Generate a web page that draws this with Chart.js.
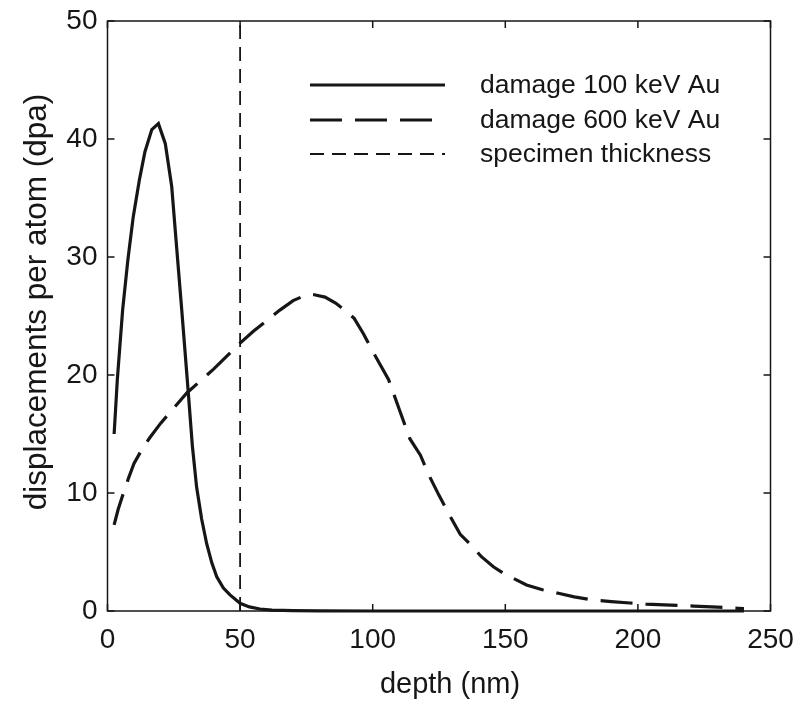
<!DOCTYPE html>
<html>
<head>
<meta charset="utf-8">
<script src="https://cdn.jsdelivr.net/npm/chart.js@4/dist/chart.umd.min.js"></script>
<style>
  html, body { margin: 0; padding: 0; background: #ffffff; }
  #wrap { width: 794px; height: 704px; }
</style>
</head>
<body>
<div id="wrap"><canvas id="c" width="794" height="704"></canvas></div>
<script>
// Damage profile, 100 keV Au
const depth100 = [2.5, 3.7, 5.7, 7.7, 9.7, 12, 14.1, 16.7, 19.2, 21.8, 24.2, 26, 28, 30.5, 32, 33.6, 35.5, 37.4, 39.3, 41.2, 43.7, 46.2, 50, 53.5, 57.5, 62, 70, 80, 100, 150, 200, 240];
const dpa100   = [15.0, 19.6, 25.5, 29.8, 33.4, 36.5, 38.9, 40.8, 41.3, 39.6, 36.0, 31.0, 25.5, 18.4, 14.0, 10.5, 7.8, 5.7, 4.1, 2.9, 1.95, 1.36, 0.65, 0.35, 0.17, 0.08, 0.03, 0.01, 0, 0, 0, 0];

// Damage profile, 600 keV Au
const depth600 = [2.5, 4, 6, 8, 10, 13, 16, 20, 25, 30, 35, 40, 45, 50, 55, 60, 65, 70, 75, 78, 82, 86, 90, 93, 96.5, 100, 103, 106, 110, 114, 118, 121, 125, 129, 133, 137, 141, 145.5, 150, 153, 158, 164, 170, 176, 183, 190, 197, 203, 210, 221, 230, 238, 240];
const dpa600   = [7.3, 8.6, 10.0, 11.3, 12.5, 13.7, 14.7, 15.9, 17.2, 18.5, 19.5, 20.5, 21.6, 22.7, 23.7, 24.6, 25.5, 26.3, 26.8, 26.8, 26.6, 26.1, 25.4, 24.8, 23.5, 22.0, 20.8, 19.6, 17.1, 14.6, 13.2, 11.6, 9.8, 8.1, 6.5, 5.6, 4.6, 3.75, 3.1, 2.77, 2.2, 1.8, 1.5, 1.2, 0.93, 0.8, 0.68, 0.59, 0.52, 0.42, 0.33, 0.23, 0.2];

// Specimen thickness marker
const thicknessDepth = [50, 50];
const thicknessDpa   = [0, 50];

const seriesLabels = ['damage 100 keV Au', 'damage 600 keV Au', 'specimen thickness'];
const xTicks = [0, 50, 100, 150, 200, 250];
const yTicks = [0, 10, 20, 30, 40, 50];
const xTitle = 'depth (nm)';
const yTitle = 'displacements per atom (dpa)';

const FONT = "'Liberation Sans', Arial, Helvetica, sans-serif";
const INK = '#161616';

const toPoints = (xs, ys) => xs.map((x, i) => ({ x: x, y: ys[i] }));

// Plot frame with inward ticks on all four sides
const framePlugin = {
  id: 'frame',
  afterDraw(chart) {
    const { ctx, chartArea: a, scales } = chart;
    ctx.save();
    ctx.strokeStyle = INK;
    ctx.lineWidth = 1.5;
    ctx.setLineDash([]);
    ctx.strokeRect(a.left, a.top, a.right - a.left, a.bottom - a.top);
    const len = 7;
    ctx.beginPath();
    xTicks.forEach(v => {
      const px = scales.x.getPixelForValue(v);
      ctx.moveTo(px, a.bottom); ctx.lineTo(px, a.bottom - len);
      ctx.moveTo(px, a.top);    ctx.lineTo(px, a.top + len);
    });
    yTicks.forEach(v => {
      const py = scales.y.getPixelForValue(v);
      ctx.moveTo(a.left, py);  ctx.lineTo(a.left + len, py);
      ctx.moveTo(a.right, py); ctx.lineTo(a.right - len, py);
    });
    ctx.stroke();

    // axis titles
    ctx.fillStyle = INK;
    ctx.textAlign = 'center';
    ctx.textBaseline = 'middle';
    ctx.font = '29px ' + FONT;
    ctx.fillText(xTitle, 450, 685);
    ctx.font = '31.5px ' + FONT;
    ctx.translate(37, 302);
    ctx.rotate(-Math.PI / 2);
    ctx.fillText(yTitle, 0, 0);
    ctx.restore();
  }
};

// Legend drawn inside the plot area, top right
const legendPlugin = {
  id: 'insideLegend',
  afterDraw(chart) {
    const { ctx } = chart;
    const o = chart.options.plugins.insideLegend;
    ctx.save();
    chart.data.datasets.forEach((ds, i) => {
      const y = o.rows[i];
      ctx.strokeStyle = ds.borderColor;
      ctx.lineWidth = ds.borderWidth;
      ctx.setLineDash(ds.borderDash || []);
      ctx.beginPath();
      ctx.moveTo(o.lineX, y);
      ctx.lineTo(o.lineX + o.lineLen, y);
      ctx.stroke();
      ctx.setLineDash([]);
      ctx.fillStyle = INK;
      ctx.font = o.fontSize + 'px ' + FONT;
      ctx.textAlign = 'left';
      ctx.textBaseline = 'middle';
      ctx.fillText(ds.label, o.textX, y + 1);
    });
    ctx.restore();
  }
};

new Chart(document.getElementById('c'), {
  type: 'line',
  data: {
    datasets: [
      {
        label: seriesLabels[0],
        data: toPoints(depth100, dpa100),
        borderColor: INK, borderWidth: 3.2, borderDash: [],
        pointRadius: 0, tension: 0, fill: false, clip: false
      },
      {
        label: seriesLabels[1],
        data: toPoints(depth600, dpa600),
        borderColor: INK, borderWidth: 3.2, borderDash: [32, 13],
        pointRadius: 0, tension: 0, fill: false, clip: false
      },
      {
        label: seriesLabels[2],
        data: toPoints(thicknessDepth, thicknessDpa),
        borderColor: INK, borderWidth: 1.8, borderDash: [14, 8],
        pointRadius: 0, tension: 0, fill: false, clip: false
      }
    ]
  },
  options: {
    responsive: false,
    devicePixelRatio: 1,
    animation: false,
    events: [],
    layout: { padding: { top: 21, right: 23.5, left: 0, bottom: 0 } },
    plugins: {
      legend: { display: false },
      tooltip: { enabled: false },
      insideLegend: { rows: [85, 120, 154], lineX: 310, lineLen: 135, textX: 480, fontSize: 26.5 }
    },
    scales: {
      x: {
        type: 'linear', min: 0, max: 250,
        afterBuildTicks: s => { s.ticks = xTicks.map(v => ({ value: v })); },
        afterFit: s => { s.height = 93; s.paddingLeft = 0; s.paddingRight = 0; },
        grid: { display: false, drawTicks: false },
        border: { display: false },
        ticks: { color: INK, font: { family: FONT, size: 28 }, padding: 12, maxRotation: 0 }
      },
      y: {
        type: 'linear', min: 0, max: 50,
        afterBuildTicks: s => { s.ticks = yTicks.map(v => ({ value: v })); },
        afterFit: s => { s.width = 107.5; s.paddingTop = 0; s.paddingBottom = 0; },
        grid: { display: false, drawTicks: false },
        border: { display: false },
        ticks: { color: INK, font: { family: FONT, size: 28 }, padding: 10 }
      }
    }
  },
  plugins: [framePlugin, legendPlugin]
});
</script>
</body>
</html>
